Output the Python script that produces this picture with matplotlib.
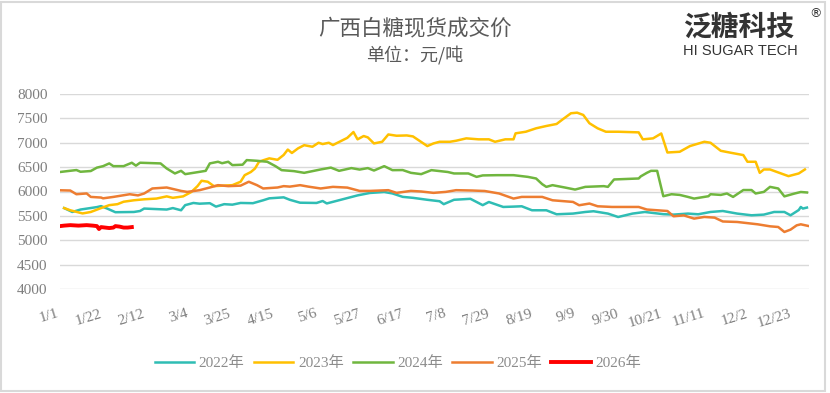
import matplotlib
matplotlib.use("Agg")
import matplotlib.pyplot as plt
from matplotlib.patches import Rectangle

plt.rcParams['font.family'] = ['Liberation Serif', 'Noto Sans CJK SC']

# day of year (0 = 1/1) and price in yuan/ton
days_2022 = [2, 6, 10, 18, 20, 23, 27, 36, 39, 41, 52, 55, 59, 61, 65, 68, 73, 76, 80, 84, 88,
             94, 99, 102, 109, 112, 117, 125, 128, 130, 135, 145, 151, 158, 162, 167, 172, 179,
             185, 187, 192, 200, 206, 209, 216, 221, 225, 230, 237, 242, 250, 256, 260, 267,
             272, 279, 285, 294, 299, 306, 311, 317, 323, 330, 337, 343, 348, 353, 356, 360,
             361, 362, 364]
price_2022 = [5660, 5580, 5630, 5680, 5700, 5650, 5575, 5580, 5600, 5650, 5630, 5660, 5615, 5720,
              5765, 5750, 5760, 5690, 5740, 5730, 5765, 5760, 5820, 5860, 5880, 5830, 5770, 5765,
              5805, 5755, 5810, 5920, 5970, 5990, 5960, 5890, 5870, 5830, 5800, 5740, 5830, 5850,
              5720, 5785, 5683, 5690, 5697, 5615, 5615, 5533, 5547, 5580, 5595, 5547, 5477, 5547,
              5580, 5535, 5526, 5547, 5533, 5580, 5600, 5547, 5512, 5526, 5580, 5580, 5512, 5620,
              5683, 5650, 5670]

days_2023 = [2, 5, 11, 15, 20, 24, 28, 31, 36, 41, 47, 52, 55, 60, 64, 67, 69, 72, 75, 84, 88,
             90, 93, 95, 97, 99, 102, 106, 109, 111, 113, 116, 119, 123, 126, 128, 131, 133, 140,
             143, 145, 148, 150, 153, 157, 160, 164, 169, 172, 179, 182, 185, 190, 193, 198, 204,
             209, 212, 217, 221, 222, 227, 232, 237, 242, 245, 249, 252, 255, 258, 262, 266, 272,
             282, 284, 289, 293, 296, 302, 307, 314, 317, 322, 327, 333, 335, 339, 341, 343, 346,
             355, 360, 363]
price_2023 = [5660, 5615, 5550, 5580, 5660, 5720, 5740, 5790, 5820, 5840, 5855, 5900, 5870, 5900,
              5990, 6110, 6220, 6200, 6110, 6130, 6200, 6335, 6400, 6470, 6610, 6640, 6680, 6650,
              6750, 6860, 6790, 6885, 6950, 6918, 7000, 6973, 7000, 6953, 7100, 7220, 7070, 7138,
              7110, 6986, 7020, 7170, 7144, 7150, 7130, 6932, 6986, 7020, 7020, 7041, 7090, 7070,
              7070, 7020, 7070, 7070, 7193, 7226, 7296, 7344, 7385, 7481, 7605, 7617, 7570, 7400,
              7296, 7226, 7226, 7213, 7070, 7090, 7190, 6800, 6815, 6932, 7020, 7000, 6835, 6794,
              6747, 6610, 6610, 6383, 6452, 6452, 6315, 6370, 6452]

days_2024 = [0, 8, 10, 15, 18, 21, 24, 26, 31, 35, 37, 39, 49, 52, 56, 59, 61, 68, 71, 73, 77,
             79, 82, 84, 89, 91, 96, 101, 105, 108, 114, 119, 127, 132, 136, 142, 146, 150, 153,
             158, 162, 167, 171, 176, 181, 189, 192, 199, 203, 206, 213, 221, 228, 232, 235, 237,
             240, 246, 251, 256, 265, 267, 270, 282, 283, 286, 288, 291, 294, 298, 302, 306, 309,
             316, 317, 322, 325, 328, 333, 337, 339, 343, 346, 350, 353, 358, 361, 364]
price_2024 = [6400, 6440, 6405, 6420, 6490, 6520, 6576, 6520, 6520, 6590, 6530, 6590, 6576, 6472,
              6370, 6424, 6356, 6403, 6424, 6576, 6610, 6580, 6610, 6541, 6550, 6644, 6630, 6610,
              6520, 6438, 6418, 6383, 6452, 6490, 6424, 6480, 6450, 6480, 6430, 6520, 6438, 6440,
              6383, 6356, 6438, 6400, 6370, 6370, 6300, 6330, 6335, 6335, 6300, 6267, 6150, 6095,
              6130, 6082, 6040, 6095, 6110, 6095, 6247, 6267, 6310, 6383, 6424, 6424, 5903, 5944,
              5930, 5889, 5855, 5903, 5944, 5930, 5959, 5889, 6030, 6030, 5959, 5992, 6095, 6062,
              5900, 5959, 5990, 5980]

days_2025 = [0, 5, 8, 13, 15, 20, 21, 26, 34, 38, 41, 45, 52, 59, 62, 68, 73, 77, 82, 88, 92,
             96, 99, 106, 109, 112, 117, 121, 127, 133, 140, 146, 151, 160, 164, 171, 176, 182,
             188, 193, 201, 207, 214, 221, 225, 235, 240, 250, 253, 258, 262, 269, 282, 286, 291,
             296, 299, 304, 309, 314, 319, 323, 330, 340, 346, 350, 353, 356, 359, 361, 365]
price_2025 = [6025, 6020, 5944, 5960, 5889, 5876, 5860, 5889, 5944, 5920, 5959, 6062, 6082, 6012,
              5992, 6027, 6082, 6130, 6110, 6120, 6200, 6130, 6062, 6082, 6110, 6100, 6130, 6100,
              6062, 6095, 6080, 6012, 6012, 6027, 5972, 6012, 6000, 5972, 5992, 6027, 6020, 6010,
              5959, 5855, 5889, 5889, 5820, 5786, 5718, 5753, 5697, 5683, 5683, 5630, 5615, 5600,
              5492, 5510, 5444, 5478, 5464, 5385, 5375, 5327, 5286, 5272, 5170, 5218, 5306, 5327,
              5290]

days_2026 = [0, 2, 5, 9, 13, 16, 18, 19, 20, 22, 24, 26, 27, 29, 31, 33, 35]
price_2026 = [5290, 5300, 5310, 5300, 5310, 5300, 5290, 5230, 5270, 5260, 5250, 5260, 5290, 5280,
              5260, 5260, 5270]

tick_days = [0, 21, 42, 63, 84, 105, 126, 147, 168, 189, 210, 231, 252, 273, 294, 315, 336, 357]
tick_labels = ['1/1', '1/22', '2/12', '3/4', '3/25', '4/15', '5/6', '5/27', '6/17', '7/8', '7/29',
               '8/19', '9/9', '9/30', '10/21', '11/11', '12/2', '12/23']

fig = plt.figure(figsize=(8.3, 3.93), dpi=100)
ax = fig.add_axes([60 / 830, 1 - 289 / 393, 749 / 830, 195 / 393])

ax.plot(days_2022, price_2022, color='#2fbdb4', lw=1.8, label='2022年')
ax.plot(days_2023, price_2023, color='#ffc000', lw=1.8, label='2023年')
ax.plot(days_2024, price_2024, color='#70b63f', lw=1.8, label='2024年')
ax.plot(days_2025, price_2025, color='#ed7d31', lw=1.8, label='2025年')
ax.plot(days_2026, price_2026, color='#ff0000', lw=2.8, label='2026年')

ax.set_xlim(0, 365)
ax.set_ylim(4000, 8000)
ax.set_yticks(range(4000, 8001, 500))
ax.set_xticks(tick_days)
ax.set_xticklabels(tick_labels, rotation=17, ha='right', va='top')
ax.tick_params(axis='both', length=0, labelsize=11, labelcolor='#7f7f7f')
ax.tick_params(axis='y', pad=9)
ax.tick_params(axis='x', pad=13)
ax.grid(axis='y', color='#d9d9d9', lw=1)
ax.set_axisbelow(True)
for s in ax.spines.values():
    s.set_visible(False)

leg = fig.legend(loc='center', bbox_to_anchor=(398 / 830, 1 - 363 / 393), ncol=5, frameon=False,
                 fontsize=11, handlelength=2.6, handletextpad=0.3, columnspacing=0.6)
for t in leg.get_texts():
    t.set_color('#8c8c8c')

# titles
fig.text(0.5, 1 - 28 / 393, '广西白糖现货成交价', ha='center', va='center', fontsize=15.5,
         color='#595959', family='Noto Sans CJK SC', weight='light')
fig.text(0.5, 1 - 55 / 393, '单位：元/吨', ha='center', va='center', fontsize=13,
         color='#595959', family='Noto Sans CJK SC', weight='light')

# logo
fig.text(683 / 830, 1 - 28 / 393, '泛糖科技', ha='left', va='center', fontsize=20,
         color='#333333', family='Noto Sans CJK SC', weight='bold')
fig.text(815 / 830, 1 - 14 / 393, '®', ha='center', va='center', fontsize=9,
         color='#333333', family='DejaVu Sans')
fig.text(683 / 830, 1 - 51 / 393, 'HI SUGAR TECH', ha='left', va='center', fontsize=10.5,
         color='#333333', family='Liberation Sans')

fig.patches.append(Rectangle((1 / 830, 2 / 393), 824 / 830, 389 / 393, transform=fig.transFigure,
                             fill=False, ec='#d9d9d9', lw=1.5))

fig.savefig('out.png', dpi=100, facecolor='white')
